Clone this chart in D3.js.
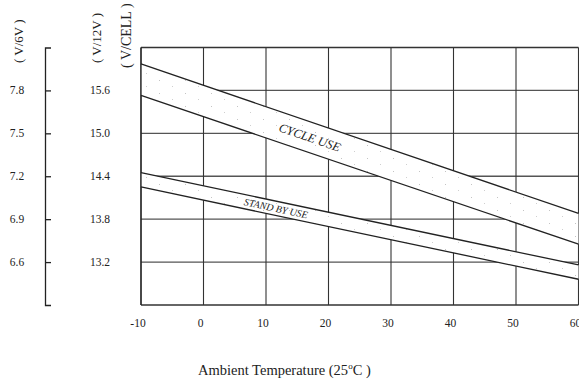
<!DOCTYPE html>
<html><head><meta charset="utf-8">
<script src="https://cdn.jsdelivr.net/npm/d3@7"></script>
<style>
html,body{margin:0;padding:0;background:#fff;}
svg{display:block;font-family:"Liberation Serif","DejaVu Serif",serif;}
</style></head>
<body>
<script>
// ---- data ----
const temps = [-10, 60];                 // ambient temperature (°C)
const cycleUpper   = [15.97, 13.88];     // V/12V
const cycleLower   = [15.53, 13.45];
const standbyUpper = [14.45, 13.16];
const standbyLower = [14.25, 12.96];
const xTicks = [-10, 0, 10, 20, 30, 40, 50, 60];
const y12Ticks = [13.2, 13.8, 14.4, 15.0, 15.6];
const y6Labels = ["6.6", "6.9", "7.2", "7.5", "7.8"];
const y12Labels = ["13.2", "13.8", "14.4", "15.0", "15.6"];

const W = 579, H = 380;
const svg = d3.select("body").append("svg").attr("width", W).attr("height", H);

const x = d3.scaleLinear().domain([-10, 60]).range([141, 578.5]);
const y = d3.scaleLinear().domain([12.6, 16.2]).range([305, 47.5]);

// faint dotted texture for bands
const defs = svg.append("defs");
const pat = defs.append("pattern").attr("id", "dots").attr("patternUnits", "userSpaceOnUse")
  .attr("width", 26).attr("height", 13);
pat.append("rect").attr("width", 26).attr("height", 13).attr("fill", "#fff");
pat.append("rect").attr("x", 3).attr("y", 2).attr("width", 1).attr("height", 1).attr("fill", "#c4c4c4");
pat.append("rect").attr("x", 16).attr("y", 8).attr("width", 1).attr("height", 1).attr("fill", "#cfcfcf");

// grid
const g = svg.append("g");
g.selectAll("line.h").data(y12Ticks).join("line")
  .attr("x1", x(-10)).attr("x2", x(60)).attr("y1", d => y(d)).attr("y2", d => y(d))
  .attr("stroke", "#555").attr("stroke-width", 1.3);
g.selectAll("line.v").data(xTicks).join("line")
  .attr("x1", d => x(d)).attr("x2", d => x(d)).attr("y1", y(16.2)).attr("y2", y(12.6))
  .attr("stroke", "#333").attr("stroke-width", 1.1);
[16.2, 12.6].forEach(v => g.append("line").attr("x1", x(-10)).attr("x2", x(60))
  .attr("y1", y(v)).attr("y2", y(v)).attr("stroke", "#333").attr("stroke-width", 1.3));

// bands
function band(up, lo) {
  const pts = temps.map((t, i) => [x(t), y(up[i])]).concat(temps.slice().reverse().map((t, j) => [x(t), y(lo[temps.length - 1 - j])]));
  svg.append("path").attr("d", "M" + pts.map(p => p.join(",")).join("L") + "Z")
    .attr("fill", "url(#dots)").attr("stroke", "none");
  const line = d3.line().x((d, i) => x(temps[i])).y(d => y(d));
  svg.append("path").attr("d", line(up)).attr("fill", "none").attr("stroke", "#222").attr("stroke-width", 1.3);
  svg.append("path").attr("d", line(lo)).attr("fill", "none").attr("stroke", "#222").attr("stroke-width", 1.3);
}
band(cycleUpper, cycleLower);
band(standbyUpper, standbyLower);

function bandLabel(text, up, lo, t, size) {
  const f = (t - temps[0]) / (temps[1] - temps[0]);
  const yu = y(up[0] + (up[1] - up[0]) * f), yl = y(lo[0] + (lo[1] - lo[0]) * f);
  const ang = Math.atan2(y(up[1]) - y(up[0]), x(temps[1]) - x(temps[0])) * 180 / Math.PI;
  svg.append("text").attr("transform", `translate(${x(t)},${(yu + yl) / 2}) rotate(${ang})`)
    .attr("text-anchor", "middle").attr("dy", "0.35em").attr("font-style", "italic")
    .attr("font-size", size).attr("fill", "#222").text(text);
}
bandLabel("CYCLE USE", cycleUpper, cycleLower, 17, 12.5);
bandLabel("STAND BY USE", standbyUpper, standbyLower, 11.6, 10);

// left frame line
svg.append("line").attr("x1", x(-10)).attr("x2", x(-10)).attr("y1", y(16.2)).attr("y2", y(12.6))
  .attr("stroke", "#222").attr("stroke-width", 1.3);

// x tick labels
svg.selectAll("text.xt").data(xTicks).join("text")
  .attr("x", d => x(d) - 3).attr("y", 327).attr("text-anchor", "middle")
  .attr("font-size", 11.5).attr("fill", "#222").text(d => d);

// V/6V axis
const ax6 = d3.axisRight(y).tickValues(y12Ticks).tickSizeInner(6).tickSizeOuter(6).tickFormat("");
const a6 = svg.append("g").attr("transform", "translate(45,0)").call(ax6);
a6.select(".domain").attr("stroke", "#222").attr("stroke-width", 1.3);
a6.selectAll(".tick line").attr("stroke", "#222").attr("stroke-width", 1.3);

svg.selectAll("text.y6").data(y12Ticks).join("text")
  .attr("x", 17).attr("y", d => y(d)).attr("dy", "0.35em").attr("text-anchor", "middle")
  .attr("font-size", 11.5).attr("fill", "#222").text((d, i) => y6Labels[i]);
svg.selectAll("text.y12").data(y12Ticks).join("text")
  .attr("x", 100).attr("y", d => y(d)).attr("dy", "0.35em").attr("text-anchor", "middle")
  .attr("font-size", 11.5).attr("fill", "#222").text((d, i) => y12Labels[i]);

// unit labels
[["( V/6V )", 18, 63, 13], ["( V/12V )", 96, 63, 13], ["( V/CELL )", 126, 68, 14]].forEach(([t, cx, yb, fs]) => {
  svg.append("text").attr("transform", `translate(${cx},${yb}) rotate(-90)`)
    .attr("dy", "0.35em").attr("font-size", fs).attr("fill", "#222").text(t);
});

// x title
const xt = svg.append("text").attr("x", 198).attr("y", 375).attr("font-size", 14.5).attr("fill", "#222");
xt.append("tspan").text("Ambient Temperature (25");
xt.append("tspan").attr("font-size", 9).attr("dy", -6).text("o");
xt.append("tspan").attr("dy", 6).text("C )");
</script>
</body></html>
